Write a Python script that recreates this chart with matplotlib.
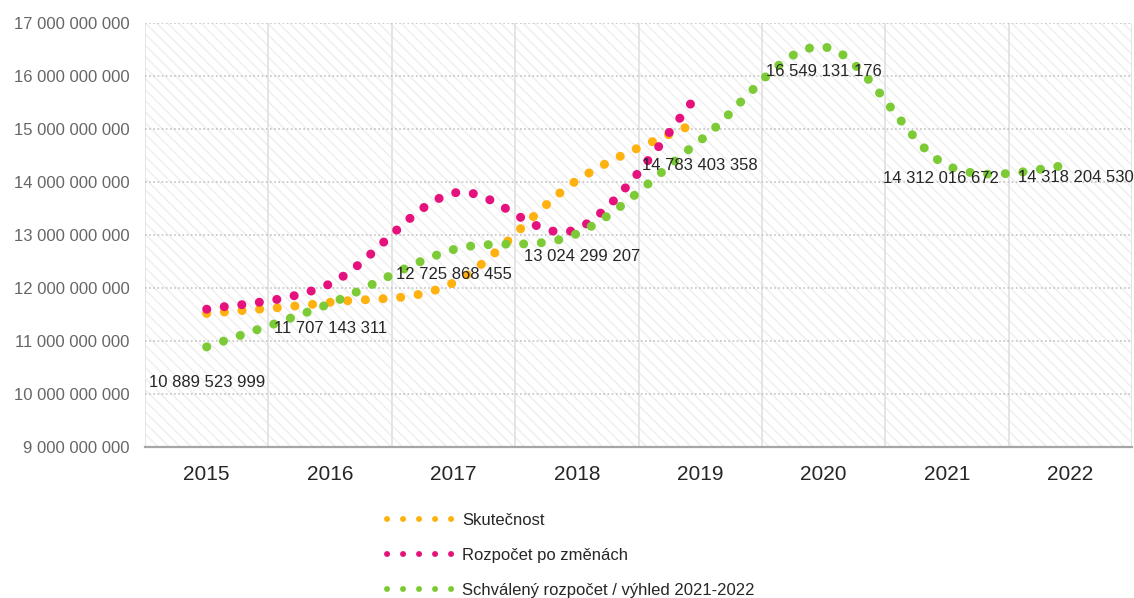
#!/usr/bin/env python3
import numpy as np
import matplotlib
matplotlib.use("Agg")
import matplotlib.pyplot as plt
from matplotlib.path import Path
from matplotlib.patches import PathPatch, Rectangle
from matplotlib.lines import Line2D
from matplotlib.ticker import FuncFormatter, FixedLocator

plt.rcParams['font.family'] = ['Liberation Sans', 'DejaVu Sans']

years = ["2015", "2016", "2017", "2018", "2019", "2020", "2021", "2022"]

skutecnost = [11.52e9, 11.73e9, 12.10e9, 14.03e9, 15.15e9]
# budget after changes (2015-2019)
rozpocet_po_zmenach = [11.60e9, 12.08e9, 13.79e9, 13.11e9, 15.70e9]
# approved budget / outlook, values from the data labels
schvaleny = [10889523999, 11707143311, 12725868455, 13024299207,
             14783403358, 16549131176, 14312016672, 14318204530]

series_names = ["Skutečnost", "Rozpočet po změnách",
                "Schválený rozpočet / výhled 2021-2022"]
series_colors = ["#FFB10F", "#E5127D", "#7CCB36"]

y_ticks = [9e9, 10e9, 11e9, 12e9, 13e9, 14e9, 15e9, 16e9, 17e9]


def fmt_cz(v, pos=None):
    return f"{int(round(v)):,}".replace(",", " ")


def smooth_path(ys):
	# Excel style smoothed line -> cubic bezier through every point
	pts = np.column_stack([np.arange(len(ys)), ys]).astype(float)
	ext = np.vstack([pts[0], pts, pts[-1]])
	verts = [pts[0]]
	codes = [Path.MOVETO]
	for i in range(len(pts) - 1):
		p0, p1, p2, p3 = ext[i], ext[i + 1], ext[i + 2], ext[i + 3]
		verts += [p1 + (p2 - p0) / 6, p2 - (p3 - p1) / 6, p2]
		codes += [Path.CURVE4] * 3
	return Path(verts, codes)


fig = plt.figure(figsize=(11.34, 5.98), dpi=100)
ax = fig.add_axes([145 / 1134, 1 - 447 / 598, 987 / 1134, 424 / 598])

ax.set_xlim(-0.5, len(years) - 0.5)
ax.set_ylim(y_ticks[0], y_ticks[-1])

# faint diagonal hatch in the plot area
ax.add_patch(Rectangle((0, 0), 1, 1, transform=ax.transAxes, facecolor="white",
                       edgecolor="#eeeeee", hatch="\\\\\\", lw=0, zorder=0))

ax.yaxis.set_major_locator(FixedLocator(y_ticks))
ax.yaxis.set_major_formatter(FuncFormatter(fmt_cz))
ax.set_xticks(range(len(years)))
ax.set_xticklabels(years)
ax.set_xticks(np.arange(-0.5, len(years)), minor=True)

ax.grid(axis="y", which="major", color="#c4c4c4", linestyle=(0, (1, 1.5)), lw=1.2, zorder=1)
ax.grid(axis="x", which="minor", color="#e0e0e0", linestyle="-", lw=1.2, zorder=1)
ax.set_axisbelow(True)

for s in ["top", "left", "right"]:
	ax.spines[s].set_visible(False)
ax.spines["bottom"].set_color("#a6a6a6")
ax.spines["bottom"].set_linewidth(1.6)

ax.tick_params(axis="both", which="both", length=0)
ax.tick_params(axis="y", labelsize=12, labelcolor="#666666", pad=11)
ax.tick_params(axis="x", labelsize=15, labelcolor="#262626", pad=13)

for vals, color in zip([skutecnost, rozpocet_po_zmenach, schvaleny], series_colors):
	patch = PathPatch(smooth_path(vals), facecolor="none", edgecolor=color,
	                  lw=6.5, linestyle=(0, (0.01, 1.95)), capstyle="round",
	                  transform=ax.transData, zorder=3)
	ax.add_patch(patch)

# data labels for the approved budget, offsets in pixels
label_dx = [0, 0, 1, 5, 0, 0, -6, 6]
label_dy = [-36, -25, -25, -23, -25, -25, -13, -12]
for i, v in enumerate(schvaleny):
	ax.annotate(fmt_cz(v), (i, v), xytext=(label_dx[i], label_dy[i]),
	            textcoords="offset pixels", ha="center", va="center",
	            fontsize=12, color="#262626", zorder=5)

handles = [Line2D([], [], color=c, lw=4.3, linestyle=(0, (0.01, 2.67)),
                  dash_capstyle="round") for c in series_colors]
fig.legend(handles, series_names, loc="upper left", bbox_to_anchor=(387 / 1134, 1 - 513 / 598),
           frameon=False, fontsize=12, handlelength=3.9, handletextpad=0.6,
           labelspacing=1.2, borderpad=0, borderaxespad=0, labelcolor="#262626")

fig.savefig("out.png", dpi=100)
